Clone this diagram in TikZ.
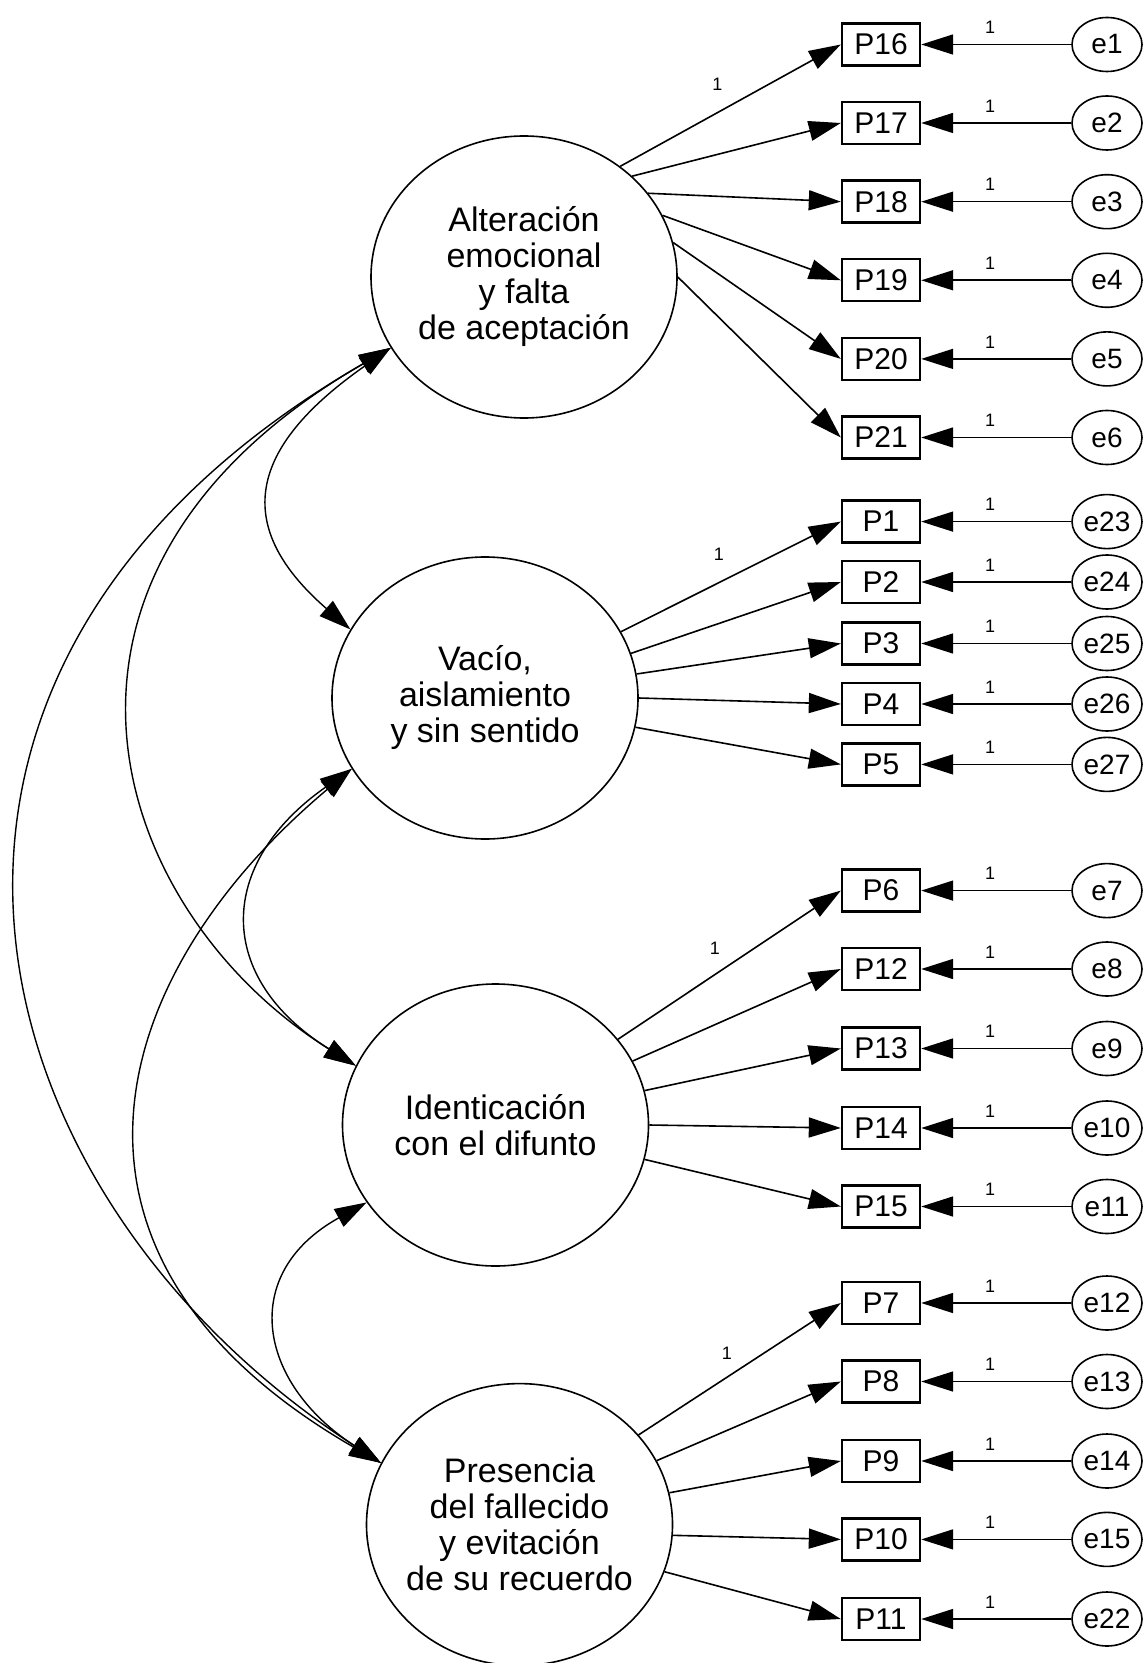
\documentclass[tikz,border=0pt]{standalone}
\usepackage{fontspec}
\setmainfont{Liberation Sans}
\usetikzlibrary{shapes.geometric,arrows.meta}
\begin{document}
\begin{tikzpicture}[x=0.5pt,y=0.5pt,
  lat/.style={draw, ellipse, line width=0.8pt, minimum width=153pt, minimum height=141pt, inner sep=-5pt, align=center, font=\fontsize{17}{18}\selectfont},
  obs/.style={draw, rectangle, line width=1.2pt, minimum width=39pt, minimum height=21pt, inner sep=0pt, font=\fontsize{15}{18}\selectfont},
  err/.style={draw, ellipse, line width=0.8pt, minimum width=35pt, minimum height=27pt, inner sep=0pt, font=\fontsize{14}{16}\selectfont},
  arr/.style={line width=0.8pt, -{Triangle[length=16pt,width=10pt]}},
  cov/.style={line width=0.7pt, {Triangle[length=16pt,width=10pt]}-{Triangle[length=16pt,width=10pt]}},
  one/.style={font=\fontsize{9}{10}\selectfont, inner sep=0pt}
]
\fill[white] (0,0) rectangle (1144,-1663);
\useasboundingbox (0,0) rectangle (1144,-1663);

% latent factors
\node[lat] (F1) at (524,-277) {Alteración\\emocional\\y falta\\de aceptación};
\node[lat] (F2) at (485,-698) {Vacío,\\aislamiento\\y sin sentido};
\node[lat] (F3) at (495.5,-1125) {Identicación\\con el difunto};
\node[lat] (F4) at (519.5,-1524.6) {Presencia\\del fallecido\\y evitación\\de su recuerdo};

% observed items and errors
\foreach \n/\y/\e in {P16/44.5/e1, P17/123/e2, P18/201.7/e3, P19/280.3/e4, P20/358.9/e5, P21/437.5/e6,
  P1/521.6/e23, P2/582/e24, P3/643.5/e25, P4/704/e26, P5/764.4/e27,
  P6/890.6/e7, P12/969/e8, P13/1048.5/e9, P14/1128/e10, P15/1206.5/e11,
  P7/1303/e12, P8/1381.5/e13, P9/1461/e14, P10/1539.4/e15, P11/1619/e22} {
  \node[obs] (\n) at (881,-\y) {\n};
  \node[err] (\e) at (1107,-\y) {\e};
  \draw[arr] (\e) -- node[one, pos=0.54, yshift=8.5pt] (l\e) {1} (\n);
}

% loadings with fixed label
\draw[arr] (F1.49) -- node[one, pos=0.44, yshift=14pt] (lF1) {1} (P16.west);
\draw[arr] (F2.26) -- node[one, pos=0.445, yshift=14pt] (lF2) {1} (P1.west);
\draw[arr] (F3.35) -- node[one, pos=0.435, yshift=13pt] (lF3) {1} (P6.west);
\draw[arr] (F4.37) -- node[one, pos=0.437, yshift=12pt] (lF4) {1} (P7.west);

% other loadings
\foreach \f/\a/\n in {F1/43/P17, F1/34/P18, F1/24/P19, F1/13/P20, F1/0/P21,
  F2/17/P2, F2/9/P3, F2/0/P4, F2/349/P5,
  F3/25/P12, F3/13/P13, F3/0/P14, F3/347/P15,
  F4/25/P8, F4/12/P9, F4/356/P10, F4/342/P11} {
  \draw[arr] (\f.\a) -- (\n.west);
}

% covariances
\draw[cov] (F1.208) .. controls +(215:165) and +(139:165) .. (F2.153);
\draw[cov] (F1.208) .. controls +(210:455) and +(148:290) .. (F3.157);
\draw[cov] (F1.208) .. controls +(210:640) and +(147:500) .. (F4.156);
\draw[cov] (F2.208) .. controls +(215:166) and +(148:166) .. (F3.157);
\draw[cov] (F2.208) .. controls +(220:320) and +(150:415) .. (F4.156);
\draw[cov] (F3.211) .. controls +(209:147) and +(147:147) .. (F4.156);
\end{tikzpicture}
\end{document}
